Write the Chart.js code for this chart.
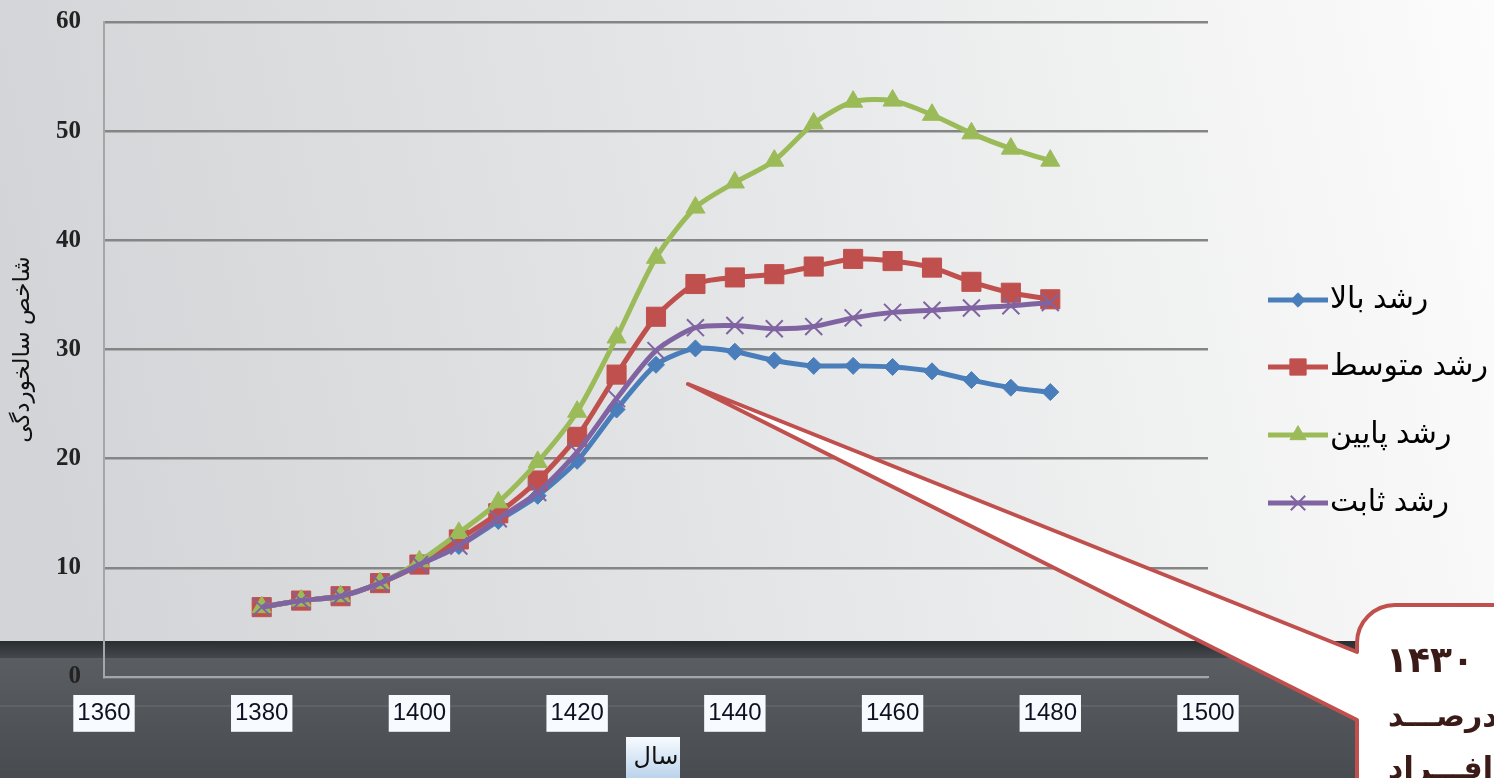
<!DOCTYPE html>
<html lang="fa">
<head>
<meta charset="utf-8">
<title>شاخص سالخوردگی</title>
<script src="https://cdn.jsdelivr.net/npm/chart.js@4.4.1/dist/chart.umd.min.js"></script>
<style>
  html, body { margin: 0; padding: 0; background: #e4e5e7; overflow: hidden; }
  #wrap { position: relative; width: 1494px; height: 778px; }
</style>
</head>
<body>
<div id="wrap"><canvas id="chart" width="1494" height="778"></canvas></div>
<script>
// years on the x axis (every 5 years)
const years = [1380, 1385, 1390, 1395, 1400, 1405, 1410, 1415, 1420, 1425, 1430,
               1435, 1440, 1445, 1450, 1455, 1460, 1465, 1470, 1475, 1480];

// ageing index per scenario
const highGrowth   = [6.4, 7.0, 7.4, 8.6, 10.3, 12.0, 14.3, 16.6, 19.8, 24.5, 28.6,
                      30.1, 29.8, 29.0, 28.5, 28.5, 28.4, 28.0, 27.2, 26.5, 26.1];
const mediumGrowth = [6.4, 7.0, 7.4, 8.6, 10.3, 12.6, 15.0, 18.0, 22.0, 27.7, 33.0,
                      36.0, 36.6, 36.9, 37.6, 38.3, 38.1, 37.5, 36.2, 35.2, 34.6];
const lowGrowth    = [6.4, 7.0, 7.4, 8.6, 10.6, 13.2, 16.0, 19.7, 24.3, 31.1, 38.4,
                      43.0, 45.3, 47.3, 50.7, 52.7, 52.8, 51.5, 49.8, 48.4, 47.3];
const zeroGrowth   = [6.4, 7.0, 7.4, 8.6, 10.3, 12.0, 14.5, 16.9, 20.6, 25.5, 29.9,
                      32.0, 32.2, 31.9, 32.1, 32.9, 33.4, 33.6, 33.8, 34.0, 34.3];

const seriesNames = ['رشد بالا', 'رشد متوسط', 'رشد پایین', 'رشد ثابت'];
const xRange = [1360, 1500, 20];
const yRange = [0, 60, 10];
const yTitle = 'شاخص سالخوردگی';
const xTitle = 'سال';

const toPoints = (vals) => vals.map((v, i) => ({ x: years[i], y: v }));

const canvas = document.getElementById('chart');
const ctx0 = canvas.getContext('2d');

// label box gradient for x ticks
const tickBox = ctx0.createLinearGradient(0, 694, 0, 729);
tickBox.addColorStop(0, '#f7fbff');
tickBox.addColorStop(1, '#bcd3ec');

// page background, dark band, title box
const backdrop = {
    id: 'backdrop',
    beforeDraw(chart) {
        const ctx = chart.ctx, w = chart.width, h = chart.height;
        ctx.save();
        let g = ctx.createLinearGradient(0, 300, w, 0);
        g.addColorStop(0, '#d2d4d7');
        g.addColorStop(0.5, '#e6e7e8');
        g.addColorStop(1, '#fcfcfc');
        ctx.fillStyle = g;
        ctx.fillRect(0, 0, w, h);

        g = ctx.createLinearGradient(0, 641, 0, 658);
        g.addColorStop(0, '#2b2e31');
        g.addColorStop(1, '#45484c');
        ctx.fillStyle = g;
        ctx.fillRect(0, 641, w, 17);
        g = ctx.createLinearGradient(0, 658, 0, h);
        g.addColorStop(0, '#5a5e62');
        g.addColorStop(1, '#484b4f');
        ctx.fillStyle = g;
        ctx.fillRect(0, 658, w, h - 658);
        ctx.fillStyle = 'rgba(255,255,255,0.07)';
        ctx.fillRect(0, 705, w, 2);

        // box behind the x title
        g = ctx.createLinearGradient(0, 737, 0, h);
        g.addColorStop(0, '#f7fbff');
        g.addColorStop(1, '#bcd3ec');
        ctx.fillStyle = g;
        ctx.fillRect(626, 737, 54, h - 737);
        ctx.restore();
    }
};

// legend with line + marker, and the callout bubble
const extras = {
    id: 'extras',
    afterDraw(chart) {
        const ctx = chart.ctx;
        ctx.save();

        // callout
        ctx.beginPath();
        ctx.moveTo(688, 384);
        ctx.lineTo(1357, 652);
        ctx.arcTo(1357, 605, 1400, 605, 38);
        ctx.lineTo(1510, 605);
        ctx.lineTo(1510, 800);
        ctx.lineTo(1357, 800);
        ctx.lineTo(1357, 720);
        ctx.closePath();
        ctx.fillStyle = '#ffffff';
        ctx.fill();
        ctx.lineWidth = 4;
        ctx.strokeStyle = '#c0504d';
        ctx.lineJoin = 'round';
        ctx.stroke();

        ctx.fillStyle = '#3b1b18';
        ctx.direction = 'rtl';
        ctx.textAlign = 'left';
        ctx.textBaseline = 'alphabetic';
        ctx.font = 'bold 36px "DejaVu Sans", sans-serif';
        ctx.fillText('تا  ۱۴۳۰', 1386, 672);
        ctx.font = 'bold 30px "DejaVu Sans", sans-serif';
        ctx.fillText('۲۵ درصـــد', 1388, 726);
        ctx.fillText('از افـــراد', 1388, 778);

        // legend
        ctx.direction = 'ltr';
        const rows = [300, 367, 435, 503];
        chart.data.datasets.forEach((ds, i) => {
            const y = rows[i];
            ctx.strokeStyle = ds.borderColor;
            ctx.lineWidth = 5;
            ctx.beginPath();
            ctx.moveTo(1268, y);
            ctx.lineTo(1328, y);
            ctx.stroke();
            ctx.fillStyle = ds.pointBackgroundColor;
            ctx.strokeStyle = ds.pointBorderColor;
            ctx.lineWidth = ds.pointBorderWidth;
            Chart.helpers.drawPoint(ctx, {
                pointStyle: ds.pointStyle,
                radius: ds.pointRadius * 0.85,
                rotation: 0,
                borderWidth: ds.pointBorderWidth
            }, 1298, y);
            ctx.fillStyle = '#000000';
            ctx.font = '30px Arial, "DejaVu Sans", sans-serif';
            ctx.textAlign = 'left';
            ctx.textBaseline = 'middle';
            ctx.fillText(ds.label, 1330, y);
        });
        ctx.restore();
    }
};

const blue = '#4a7ebb', red = '#c0504d', green = '#9bbb59', purple = '#8064a2';

new Chart(canvas, {
    type: 'line',
    data: {
        datasets: [
            { label: seriesNames[0], data: toPoints(highGrowth), order: 4,
              borderColor: blue, pointBackgroundColor: blue, pointBorderColor: blue,
              pointStyle: 'rectRot', pointRadius: 8.5, pointBorderWidth: 1 },
            { label: seriesNames[1], data: toPoints(mediumGrowth), order: 3,
              borderColor: red, pointBackgroundColor: red, pointBorderColor: red,
              pointStyle: 'rect', pointRadius: 13.5, pointBorderWidth: 1 },
            { label: seriesNames[2], data: toPoints(lowGrowth), order: 2,
              borderColor: green, pointBackgroundColor: green, pointBorderColor: green,
              pointStyle: 'triangle', pointRadius: 11, pointBorderWidth: 1 },
            { label: seriesNames[3], data: toPoints(zeroGrowth), order: 1,
              borderColor: purple, pointBackgroundColor: purple, pointBorderColor: purple,
              pointStyle: 'crossRot', pointRadius: 12, pointBorderWidth: 2 }
        ]
    },
    options: {
        responsive: false,
        animation: false,
        events: [],
        elements: { line: { borderWidth: 5, tension: 0.25 } },
        layout: { padding: { top: 22, right: 286, left: 0, bottom: 0 } },
        plugins: { legend: { display: false }, tooltip: { enabled: false } },
        scales: {
            x: {
                type: 'linear',
                min: xRange[0], max: xRange[1],
                afterFit: (s) => { s.height = 101; },
                grid: { display: false, drawTicks: false },
                border: { display: true, color: '#a4a6a8', width: 2 },
                ticks: {
                    stepSize: xRange[2], autoSkip: false, padding: 22,
                    color: '#0e1220',
                    font: { family: '"Liberation Sans Narrow", "Liberation Sans", Arial, sans-serif', size: 24 },
                    showLabelBackdrop: true,
                    backdropColor: tickBox,
                    backdropPadding: { x: 4, y: 4 },
                    callback: (v) => String(v)
                },
                title: {
                    display: true, text: xTitle, color: '#111',
                    font: { family: 'Arial, "DejaVu Sans", sans-serif', size: 24 },
                    padding: 6
                }
            },
            y: {
                min: yRange[0], max: yRange[1],
                afterFit: (s) => { s.width = 104; s.paddingTop = 0; s.paddingBottom = 0; },
                grid: { color: '#858585', lineWidth: 2.5, drawTicks: false },
                border: { display: true, color: '#a4a6a8', width: 2 },
                ticks: {
                    stepSize: yRange[2], padding: 23, color: '#222',
                    font: { family: '"Liberation Serif", serif', size: 25, weight: 'bold' }
                },
                title: {
                    display: true, text: yTitle, color: '#111',
                    font: { family: 'Arial, "DejaVu Sans", sans-serif', size: 23 },
                    padding: 9
                }
            }
        }
    },
    plugins: [backdrop, extras]
});
</script>
</body>
</html>
